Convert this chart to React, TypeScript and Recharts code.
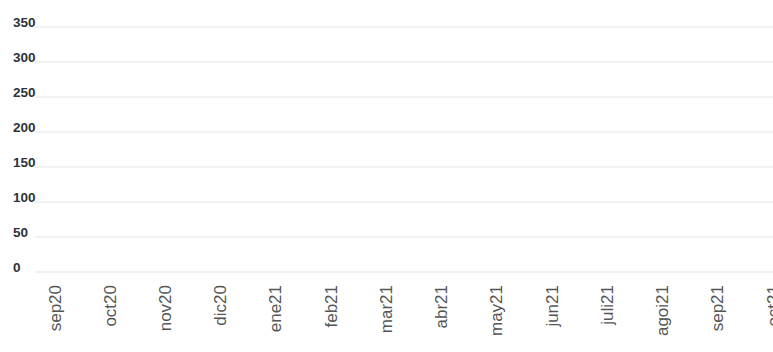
import { LineChart, Line, XAxis, YAxis, CartesianGrid } from 'recharts'

const months = [
  'sep20', 'oct20', 'nov20', 'dic20', 'ene21', 'feb21', 'mar21',
  'abr21', 'may21', 'jun21', 'juli21', 'agoi21', 'sep21', 'oct21',
]
// no values are plotted in the reference
const values: (number | null)[] = [
  null, null, null, null, null, null, null,
  null, null, null, null, null, null, null,
]
const yTicks = [0, 50, 100, 150, 200, 250, 300, 350]

const data = months.map((month, i) => ({ month, value: values[i] }))

const FONT = "Helvetica, Arial, 'Liberation Sans', sans-serif"

function YTick({ y, payload }: any) {
  return (
    <text x={13} y={y} textAnchor="start" fontSize={13.5} fontWeight={700} fill="#2f3238" fontFamily={FONT}>
      {payload.value}
    </text>
  )
}

function XTick({ x, payload }: any) {
  return (
    <text
      x={0}
      y={0}
      transform={`translate(${x},285) rotate(-90)`}
      textAnchor="end"
      dominantBaseline="central"
      fontSize={17}
      fill="#555"
      fontFamily={FONT}
    >
      {payload.value}
    </text>
  )
}

export default function App() {
  return (
    <div style={{ position: 'absolute', left: 0, top: 0, width: 773, height: 352, overflow: 'hidden', background: '#fff' }}>
      <LineChart width={793} height={352} data={data} margin={{ top: 27, right: 0, left: 0, bottom: 0 }}>
        <CartesianGrid vertical={false} stroke="#e3e3e3" />
        <XAxis
          dataKey="month"
          height={80}
          padding={{ left: 20, right: 20 }}
          axisLine={false}
          tickLine={false}
          interval={0}
          tick={<XTick />}
        />
        <YAxis
          width={35}
          type="number"
          domain={[0, 350]}
          ticks={yTicks}
          allowDataOverflow
          axisLine={false}
          tickLine={false}
          tick={<YTick />}
        />
        <Line dataKey="value" stroke="#3b82f6" dot={false} isAnimationActive={false} />
      </LineChart>
    </div>
  )
}
